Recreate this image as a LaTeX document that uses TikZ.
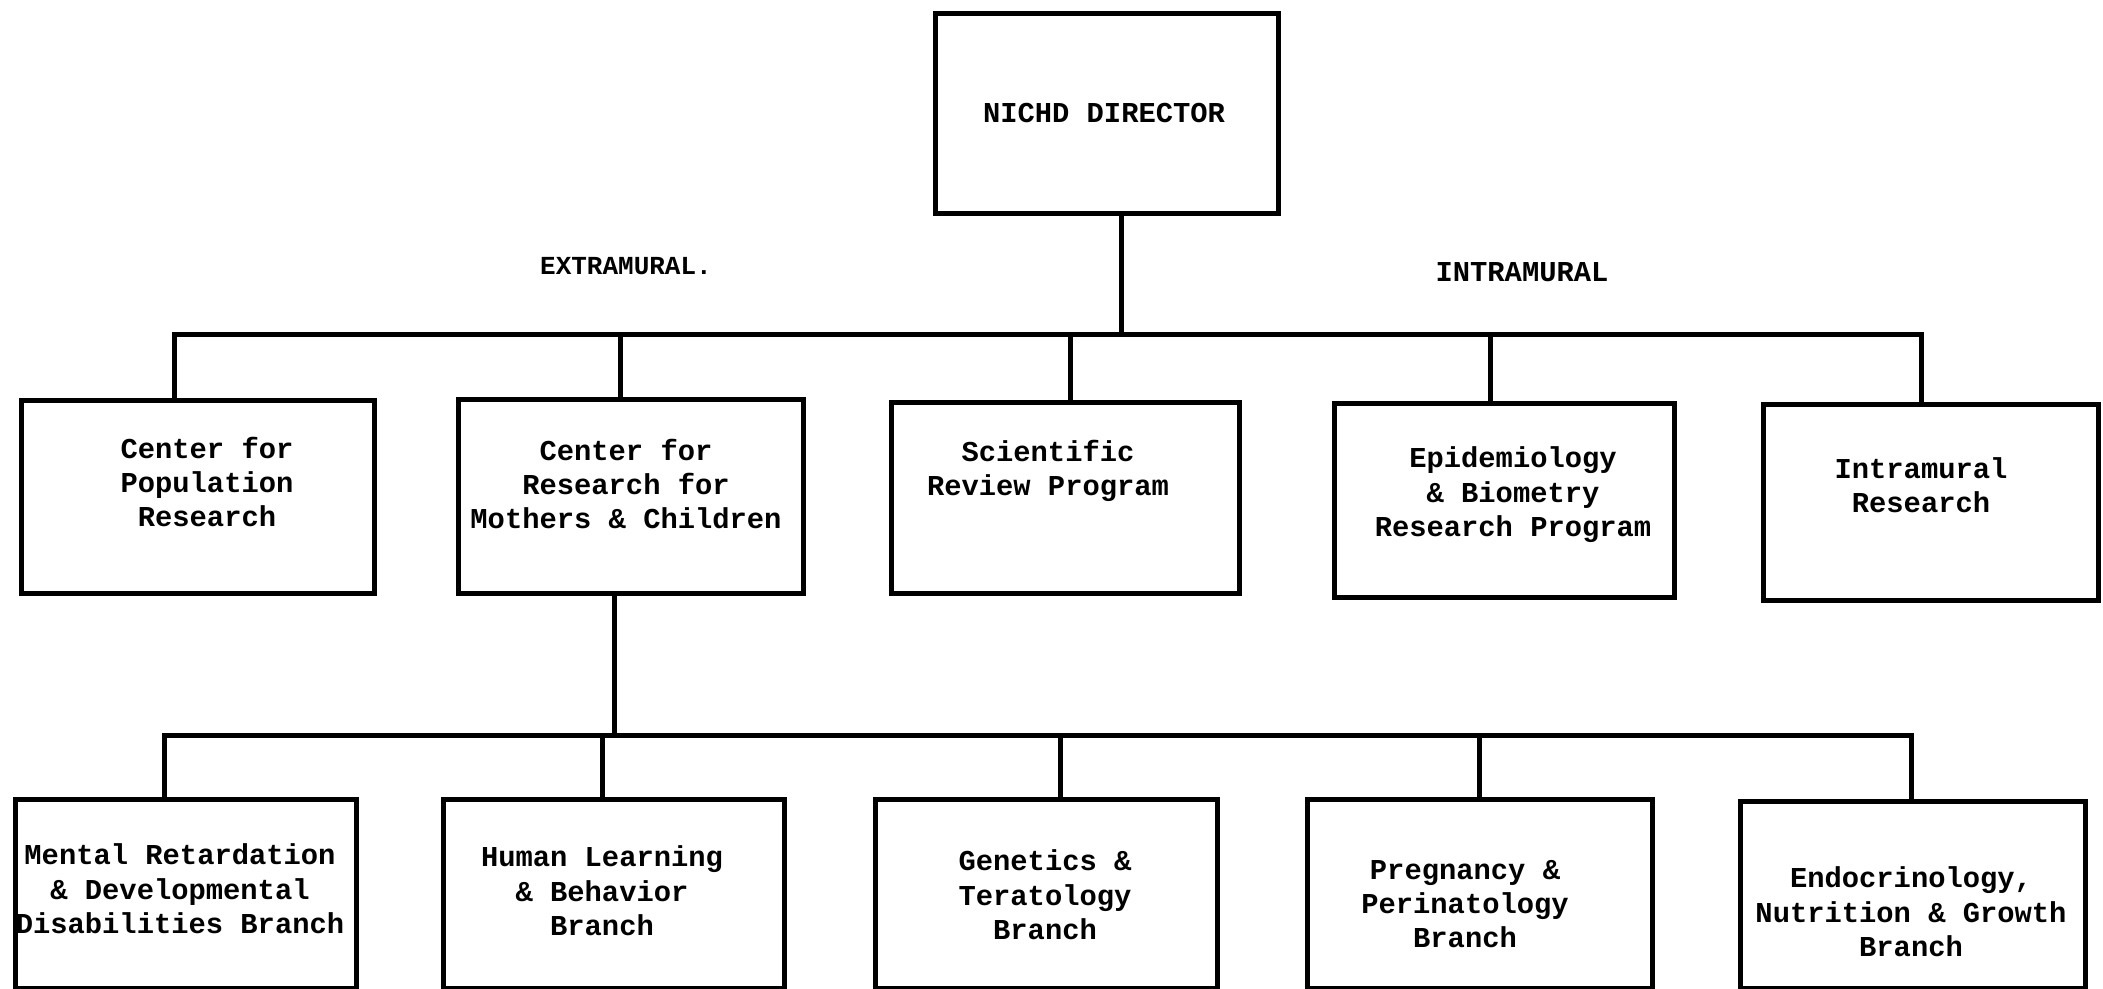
\documentclass[tikz,border=0pt]{standalone}
\usepackage{fontspec}
\setmainfont{Liberation Mono}
\begin{document}
\begin{tikzpicture}[x=0.5pt,y=-0.5pt,
  box/.style={draw, line width=2.5pt, inner sep=0pt, anchor=north west},
  txt/.style={font=\fontsize{14.4}{17.2}\selectfont\bfseries, align=center, inner sep=0pt},
  conn/.style={line width=2.5pt, line join=miter}]
\useasboundingbox (0,0) rectangle (2103,989);
% top
\node[box, minimum width=171.5pt, minimum height=100pt] (dir) at (933,11) {};
\node[txt] (tdir) at (1104,113) {NICHD DIRECTOR};
\node[txt, font=\fontsize{13}{15}\selectfont\bfseries] (lext) at (626,266) {EXTRAMURAL.};
\node[txt] (lint) at (1522,272) {INTRAMURAL};
% row 1
\node[box, minimum width=176.5pt, minimum height=96.5pt] (b1) at (19,398) {};
\node[box, minimum width=172.5pt, minimum height=97pt] (b2) at (456,397) {};
\node[box, minimum width=174pt, minimum height=95.5pt] (b3) at (889,400) {};
\node[box, minimum width=170pt, minimum height=97pt] (b4) at (1332,401) {};
\node[box, minimum width=167.5pt, minimum height=98pt] (b5) at (1761,402) {};
\node[txt] (tb1) at (207,482) {Center for\\Population\\Research};
\node[txt] (tb2) at (626,484) {Center for\\Research for\\Mothers \& Children};
\node[txt] (tb3) at (1048,471) {Scientific\\Review Program};
\node[txt] (tb4) at (1513,495) {Epidemiology\\\& Biometry\\Research Program};
\node[txt] (tb5) at (1921,485) {Intramural\\Research};
% row 2
\node[box, minimum width=170.5pt, minimum height=94.5pt] (c1) at (13,797) {};
\node[box, minimum width=170.5pt, minimum height=94.5pt] (c2) at (441,797) {};
\node[box, minimum width=171pt, minimum height=94.5pt] (c3) at (873,797) {};
\node[box, minimum width=172.5pt, minimum height=94.5pt] (c4) at (1305,797) {};
\node[box, minimum width=172.5pt, minimum height=93.5pt] (c5) at (1738,799) {};
\node[txt] (tc1) at (180,889) {Mental Retardation\\\& Developmental\\Disabilities Branch};
\node[txt] (tc2) at (602,891) {Human Learning\\\& Behavior\\Branch};
\node[txt] (tc3) at (1045,895) {Genetics \&\\Teratology\\Branch};
\node[txt] (tc4) at (1465,904) {Pregnancy \&\\Perinatology\\Branch};
\node[txt] (tc5) at (1911,912) {Endocrinology,\\Nutrition \& Growth\\Branch};
% connectors level 1
\coordinate (j0) at (1121,335);
\coordinate (t1) at (174,335);
\coordinate (t2) at (620,335);
\coordinate (t3) at (1070,335);
\coordinate (t4) at (1490,335);
\coordinate (t5) at (1921,335);
\draw[conn] (dir.south -| j0) -- (j0);
\draw[conn] (t1 |- b1.north) -- (t1) -- (t5) -- (t5 |- b5.north);
\draw[conn] (t2) -- (t2 |- b2.north);
\draw[conn] (t3) -- (t3 |- b3.north);
\draw[conn] (t4) -- (t4 |- b4.north);
% connectors level 2
\coordinate (m) at (614,735);
\coordinate (s1) at (164,735);
\coordinate (s2) at (602,735);
\coordinate (s3) at (1060,735);
\coordinate (s4) at (1479,735);
\coordinate (s5) at (1911,735);
\draw[conn] (b2.south -| m) -- (m);
\draw[conn] (s1 |- c1.north) -- (s1) -- (s5) -- (s5 |- c5.north);
\draw[conn] (s2) -- (s2 |- c2.north);
\draw[conn] (s3) -- (s3 |- c3.north);
\draw[conn] (s4) -- (s4 |- c4.north);
\end{tikzpicture}
\end{document}
